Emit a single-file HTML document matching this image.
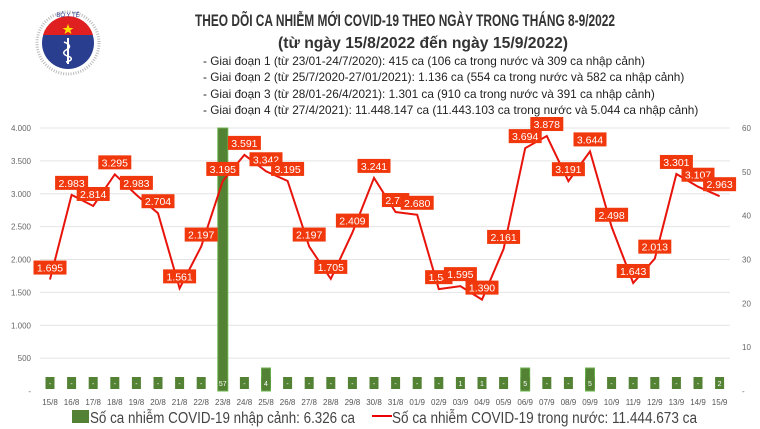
<!DOCTYPE html>
<html><head><meta charset="utf-8">
<style>
body{margin:0;background:#fff;}
#c{position:relative;width:760px;height:429px;overflow:hidden;font-family:"Liberation Sans",sans-serif;}
</style></head>
<body><div id="c">
<svg id="s" width="760" height="429" xmlns="http://www.w3.org/2000/svg" font-family="Liberation Sans, DejaVu Sans, sans-serif">
<g>
<circle cx="68" cy="43" r="31" fill="none" stroke="#bbb" stroke-width="3" stroke-dasharray="1 1.5"/>
<circle cx="68" cy="43" r="26" fill="#2a3e8f"/>
<path d="M43 35 A26 26 0 0 1 93 35 Z" fill="#e02020"/>
<polygon points="68,24 69.5,28 73.5,28 70.3,30.3 71.5,34 68,31.8 64.5,34 65.7,30.3 62.5,28 66.5,28" fill="#ffdd00"/>
<line x1="68" y1="38" x2="68" y2="64" stroke="#fff" stroke-width="2"/>
<path d="M64 42 Q74 46 66 50 Q60 54 70 57 Q74 60 66 62" stroke="#fff" fill="none" stroke-width="1.5"/>
<text x="68" y="17" font-size="6" fill="#2a3e8f" text-anchor="middle">BỘ Y TẾ</text>
</g>
<text x="195" y="26" font-size="16.5" font-weight="bold" fill="#333" textLength="420" lengthAdjust="spacingAndGlyphs">THEO DÕI CA NHIỄM MỚI COVID-19 THEO NGÀY TRONG THÁNG 8-9/2022</text>
<text x="278" y="48" font-size="16" font-weight="bold" fill="#333" textLength="290" lengthAdjust="spacingAndGlyphs">(từ ngày 15/8/2022 đến ngày 15/9/2022)</text>
<g font-size="11.8" fill="#222">
<text x="203" y="65">- Giai đoạn 1 (từ 23/01-24/7/2020): 415 ca (106 ca trong nước và 309 ca nhập cảnh)</text>
<text x="203" y="81">- Giai đoạn 2 (từ 25/7/2020-27/01/2021): 1.136 ca (554 ca trong nước và 582 ca nhập cảnh)</text>
<text x="203" y="98">- Giai đoạn 3 (từ 28/01-26/4/2021): 1.301 ca (910 ca trong nước và 391 ca nhập cảnh)</text>
<text x="203" y="114">- Giai đoạn 4 (từ 27/4/2021): 11.448.147 ca (11.443.103 ca trong nước và 5.044 ca nhập cảnh)</text>
</g>
<g id="chart"></g>
<rect x="72" y="410" width="17" height="13" fill="#548235"/>
<text x="90" y="423" font-size="15.5" fill="#444" textLength="265" lengthAdjust="spacingAndGlyphs">Số ca nhiễm COVID-19 nhập cảnh: 6.326 ca</text>
<line x1="372" y1="416" x2="392" y2="416" stroke="#e00" stroke-width="2"/>
<text x="392" y="423" font-size="15.5" fill="#444" textLength="305" lengthAdjust="spacingAndGlyphs">Số ca nhiễm COVID-19 trong nước: 11.444.673 ca</text>
</svg>
<script>
var g=document.getElementById('chart'),h='';
var y0=391,k=263/4000;
var ll=['-','500','1.000','1.500','2.000','2.500','3.000','3.500','4.000'];
for(var i=0;i<=8;i++){var y=y0-i*500*k;
 if(i>0)h+='<line x1="40" y1="'+y+'" x2="730" y2="'+y+'" stroke="#e4e4e4" stroke-width="1"/>';
 h+='<text x="31" y="'+(y+3)+'" font-size="8" fill="#666" text-anchor="end">'+ll[i]+'</text>';}
var rl=['-','10','20','30','40','50','60'];
for(var i=0;i<=6;i++){var y=y0-i*263/6;h+='<text x="742" y="'+(y+3)+'" font-size="8" fill="#666">'+rl[i]+'</text>';}
var d=['15/8','16/8','17/8','18/8','19/8','20/8','21/8','22/8','23/8','24/8','25/8','26/8','27/8','28/8','29/8','30/8','31/8','01/9','02/9','03/9','04/9','05/9','06/9','07/9','08/9','09/9','10/9','11/9','12/9','13/9','14/9','15/9'];
var v=[1695,2983,2814,3295,2983,2704,1561,2197,3195,3591,3342,3195,2197,1705,2409,3241,2722,2680,1549,1595,1390,2161,3694,3878,3191,3644,2498,1643,2013,3301,3107,2963];
var lb=['1.695','2.983','2.814','3.295','2.983','2.704','1.561','2.197','3.195','3.591','3.342','3.195','2.197','1.705','2.409','3.241','2.72','2.680','1.54','1.595','1.390','2.161','3.694','3.878','3.191','3.644','2.498','1.643','2.013','3.301','3.107','2.963'];
var bv=['-','-','-','-','-','-','-','-','57','-','4','-','-','-','-','-','-','-','-','1','1','-','5','-','-','5','-','-','-','-','-','2'];
var pts=[];
for(var i=0;i<32;i++){var x=50+21.6*i;
 h+='<text x="'+x+'" y="405" font-size="8" fill="#555" text-anchor="middle">'+d[i]+'</text>';
 if(bv[i]=='57')h+='<rect x="'+(x-5)+'" y="128" width="10" height="263" fill="#548235" stroke="#6ab04c" stroke-width="1"/>';
 else if(bv[i]=='4'||bv[i]=='5')h+='<rect x="'+(x-4.5)+'" y="368" width="9" height="23" fill="#548235" stroke="#6ab04c" stroke-width="1"/>';
 h+='<rect x="'+(x-4.5)+'" y="377" width="9" height="12" fill="#548235"/>';
 h+='<text x="'+x+'" y="386" font-size="7" fill="#fff" text-anchor="middle">'+bv[i]+'</text>';
 pts.push(x+','+(y0-v[i]*k));}
h+='<polyline points="'+pts.join(' ')+'" fill="none" stroke="#e8140c" stroke-width="2"/>';
for(var i=0;i<32;i++){var x=50+21.6*i,y=y0-v[i]*k-12;var w=lb[i].length*5.6+5;
 h+='<rect x="'+(x-w/2)+'" y="'+(y-7)+'" width="'+w+'" height="14" fill="#f0380c"/>';
 h+='<text x="'+x+'" y="'+(y+4)+'" font-size="10.5" fill="#fff" text-anchor="middle">'+lb[i]+'</text>';}
g.innerHTML=h;
</script>
</div></body></html>
